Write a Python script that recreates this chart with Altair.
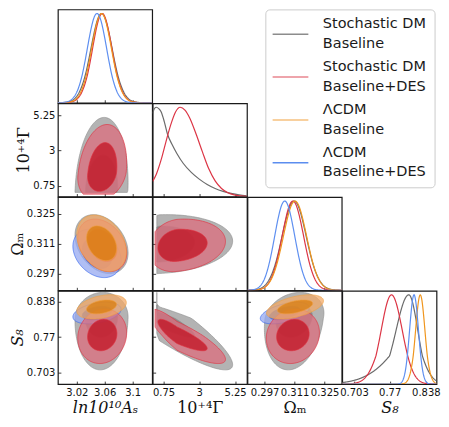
import numpy as np
import pandas as pd
import altair as alt

# ---------------- values ----------------
PARAM_TITLES = ["ln10¹⁰Aₛ", "10⁺⁴Γ", "Ωₘ", "S₈"]
TITLE_STYLES = ["italic", "normal", "normal", "italic"]
DOMAIN_AS = [2.993, 3.128]
DOMAIN_G = [0.07, 6.0]
DOMAIN_OM = [0.289, 0.333]
DOMAIN_S8 = [0.681, 0.858]
TICKS_AS = [3.02, 3.06, 3.1]
TICKS_G = [0.75, 3, 5.25]
TICKS_OM = [0.297, 0.311, 0.325]
TICKS_S8 = [0.703, 0.77, 0.838]

# series order: Stochastic DM Baseline, Stochastic DM Baseline+DES, LCDM Baseline, LCDM Baseline+DES
LEGEND_LINE1 = ["Stochastic DM", "Stochastic DM", "ΛCDM", "ΛCDM"]
LEGEND_LINE2 = ["Baseline", "Baseline+DES", "Baseline", "Baseline+DES"]
HAS_GAMMA = [True, True, False, False]

# centres and 68% / 95% half-extents (lower, upper) of each parameter
AS_CENTER = [3.0555, 3.0565, 3.0555, 3.049]
AS_W68 = [0.023, 0.021, 0.0215, 0.021]
AS_W95 = [0.038, 0.035, 0.0355, 0.0345]

G_CENTER = [0.5, 1.6]
G_W68_LO = [0.8, 1.2]
G_W68_HI = [2.2, 1.9]
G_W95_LO = [1.2, 1.8]
G_W95_HI = [4.6, 3.05]
G_PRIOR_CUT = [0.33, 0.22]

OM_CENTER = [0.3108, 0.3102, 0.3112, 0.3064]
OM_W68 = [0.0085, 0.0076, 0.0082, 0.0071]
OM_W95 = [0.0139, 0.0124, 0.0133, 0.0114]

S8_CENTER = [0.806, 0.7735, 0.8275, 0.8158]
S8_W68_LO = [0.036, 0.0292, 0.0132, 0.0126]
S8_W68_HI = [0.0254, 0.0304, 0.0132, 0.0126]
S8_W95_LO = [0.098, 0.0535, 0.023, 0.0205]
S8_W95_HI = [0.049, 0.050, 0.023, 0.0205]

# correlation coefficients of each parameter pair
CORR_AS_G = [0.1, 0.2]
CORR_AS_OM = [-0.3, -0.3, -0.3, -0.3]
CORR_AS_S8 = [0.05, 0.1, 0.35, 0.35]
CORR_G_OM = [0.1, 0.15]
CORR_G_S8 = [-0.9, -0.85]
CORR_OM_S8 = [0.2, 0.1, 0.5, 0.5]

# marginal of 10^4 Gamma
G_GRID_SB = [0.07, 0.2, 0.31, 0.45, 0.6, 0.8, 1.0, 1.3, 1.6, 2.0, 2.5, 3.0, 3.5, 4.0, 4.5, 5.0, 5.5, 6.0]
G_PDF_SB = [0.93, 0.99, 1.0, 0.985, 0.95, 0.84, 0.70, 0.58, 0.48, 0.37, 0.27, 0.195, 0.135, 0.09, 0.058, 0.035, 0.018, 0.008]
G_GRID_SD = [0.07, 0.3, 0.6, 0.9, 1.2, 1.5, 1.8, 2.1, 2.4, 2.8, 3.2, 3.6, 4.0, 4.4, 4.8, 5.2, 5.6, 6.0]
G_PDF_SD = [0.17, 0.25, 0.41, 0.61, 0.80, 0.945, 1.0, 0.968, 0.88, 0.70, 0.50, 0.31, 0.175, 0.09, 0.042, 0.018, 0.008, 0.003]

# ---------------- styles ----------------
LINE_COLORS = ["#6b6b6b", "#dc3545", "#f0961e", "#5e8ff0"]
LEGEND_COLORS = ["#8c8c8c", "#e8868f", "#f6c07e", "#5b8def"]
FILL95 = ["#999999", "#dc6e7d", "#f2aa68", "#96a8f0"]
FILL68 = ["#7f7f7f", "#c11121", "#db7e0b", "#2656e3"]
EDGE = ["#8f8f8f", "#e0303f", "#f0a040", "#2f62ee"]
FILL_OPACITY = 0.75
DRAW_ORDER_2D = [0, 3, 1, 2]
DRAW_ORDER_1D = [0, 1, 2, 3]

W, H = 94.5, 93.5
R68, R95 = 1.515, 2.448
LEG_STEP = 43.0  # pixels between legend entries

DOMAINS = [DOMAIN_AS, DOMAIN_G, DOMAIN_OM, DOMAIN_S8]
TICKS = [TICKS_AS, TICKS_G, TICKS_OM, TICKS_S8]


def pinfo(p, s):
    if p == 0:
        return AS_CENTER[s], AS_W68[s], AS_W68[s], AS_W95[s], AS_W95[s], None
    if p == 1:
        return G_CENTER[s], G_W68_LO[s], G_W68_HI[s], G_W95_LO[s], G_W95_HI[s], G_PRIOR_CUT[s]
    if p == 2:
        return OM_CENTER[s], OM_W68[s], OM_W68[s], OM_W95[s], OM_W95[s], None
    return S8_CENTER[s], S8_W68_LO[s], S8_W68_HI[s], S8_W95_LO[s], S8_W95_HI[s], None


CORR = {(0, 1): CORR_AS_G, (0, 2): CORR_AS_OM, (0, 3): CORR_AS_S8,
        (1, 2): CORR_G_OM, (1, 3): CORR_G_S8, (2, 3): CORR_OM_S8}


def contour(s, px, py, level):
    cx, xl68, xh68, xl95, xh95, xcut = pinfo(px, s)
    cy, yl68, yh68, yl95, yh95, ycut = pinfo(py, s)
    rho = CORR[(min(px, py), max(px, py))][s]
    t = np.linspace(0, 2 * np.pi, 161)
    zx = np.cos(t)
    zy = rho * np.cos(t) + np.sqrt(1 - rho ** 2) * np.sin(t)
    if level == 68:
        xl, xh, yl, yh = xl68, xh68, yl68, yh68
    else:
        xl, xh, yl, yh = xl95, xh95, yl95, yh95
    x = cx + np.where(zx < 0, zx * xl, zx * xh)
    y = cy + np.where(zy < 0, zy * yl, zy * yh)
    if xcut is not None:
        x = np.maximum(x, xcut)
    if ycut is not None:
        y = np.maximum(y, ycut)
    return pd.DataFrame({"x": x, "y": y, "k": np.arange(len(t))})


def marginal(s, p):
    lo, hi = DOMAINS[p]
    x = np.linspace(lo, hi, 241)
    c, l68, h68, l95, h95, _ = pinfo(p, s)
    d = x - c
    a = np.abs(d)
    w68 = np.where(d < 0, l68, h68)
    w95 = np.where(d < 0, l95, h95)
    z = np.where(a <= w68, R68 * a / w68, R68 + (a - w68) / (w95 - w68) * (R95 - R68))
    return pd.DataFrame({"x": x, "y": np.exp(-0.5 * z ** 2)})


def axis(p, show, orient):
    kw = dict(values=TICKS[p], format=".3~g", tickSize=3, offset=-3, domain=False, grid=False,
              tickColor="#111111", tickWidth=0.8, labels=show, labelFont="DejaVu Sans",
              labelFontSize=10, labelColor="#111111", labelFlush=False, labelOverlap=False,
              labelPadding=3)
    if show:
        kw.update(title=PARAM_TITLES[p], titleFont="DejaVu Serif", titleFontSize=16,
                  titleFontWeight="normal", titleFontStyle=TITLE_STYLES[p], titleColor="#111111",
                  titlePadding=2 if orient == "x" else 1)
    else:
        kw["title"] = None
    return alt.Axis(**kw)


def tri(i, j):
    layers = []
    for s in DRAW_ORDER_2D:
        if (i == 1 or j == 1) and not HAS_GAMMA[s]:
            continue
        for level, fill in ((95, FILL95[s]), (68, FILL68[s])):
            df = contour(s, j, i, level)
            layers.append(
                alt.Chart(df).mark_line(fill=fill, fillOpacity=FILL_OPACITY, stroke=EDGE[s],
                                        strokeWidth=0.7, strokeOpacity=0.9, clip=True)
                .encode(
                    x=alt.X("x:Q", scale=alt.Scale(domain=DOMAINS[j], nice=False, zero=False),
                            axis=axis(j, i == 3, "x")),
                    y=alt.Y("y:Q", scale=alt.Scale(domain=DOMAINS[i], nice=False, zero=False),
                            axis=axis(i, j == 0, "y")),
                    order="k:Q")
            )
    return alt.layer(*layers).properties(width=W, height=H)


def diag(i):
    layers = []
    for s in DRAW_ORDER_1D:
        if i == 1:
            if not HAS_GAMMA[s]:
                continue
            df = pd.DataFrame({"x": [G_GRID_SB, G_GRID_SD][s], "y": [G_PDF_SB, G_PDF_SD][s]})
            interp = "monotone"
        else:
            df = marginal(s, i)
            interp = "linear"
        layers.append(
            alt.Chart(df).mark_line(color=LINE_COLORS[s], strokeWidth=1.2, clip=True,
                                    interpolate=interp)
            .encode(
                x=alt.X("x:Q", scale=alt.Scale(domain=DOMAINS[i], nice=False, zero=False),
                        axis=axis(i, i == 3, "x")),
                y=alt.Y("y:Q", scale=alt.Scale(domain=[0, 1.045], nice=False), axis=None))
        )
    return alt.layer(*layers).properties(width=W, height=H)


def blank():
    return alt.Chart(pd.DataFrame({"a": [0.0]})).mark_point(opacity=0).encode(
        x=alt.X("a:Q", axis=None), y=alt.Y("a:Q", axis=None)
    ).properties(width=W, height=H, view=alt.ViewBackground(strokeOpacity=0))


def legend():
    # legend placed in the empty upper-right cell; x in units of one panel width,
    # y in units of one legend entry
    n = len(LEGEND_LINE1)
    top = -0.575
    xs = alt.Scale(domain=[0, 1], nice=False, zero=False)
    ys = alt.Scale(domain=[top, top + H / LEG_STEP], nice=False, zero=False, reverse=True)
    box = alt.Chart(pd.DataFrame({"x": [0.195], "x2": [1.99], "y": [-0.565], "y2": [3.582]})).mark_rect(
        fill="white", stroke="#cccccc", strokeWidth=1, cornerRadius=4
    ).encode(x=alt.X("x:Q", scale=xs, axis=None), x2="x2:Q",
             y=alt.Y("y:Q", scale=ys, axis=None), y2="y2:Q")
    lines = pd.DataFrame({"idx": list(range(n)), "x": [0.267] * n, "x2": [0.646] * n,
                          "c": LEGEND_COLORS})
    rules = alt.Chart(lines).mark_rule(strokeWidth=1.5).encode(
        x=alt.X("x:Q", scale=xs, axis=None), x2="x2:Q",
        y=alt.Y("idx:Q", scale=ys, axis=None),
        color=alt.Color("c:N", scale=None))
    rows = []
    for k in range(n):
        rows.append({"idx": k - 0.2247, "t": LEGEND_LINE1[k], "tx": 0.80})
        rows.append({"idx": k + 0.2247, "t": LEGEND_LINE2[k], "tx": 0.80})
    texts = alt.Chart(pd.DataFrame(rows)).mark_text(
        align="left", baseline="middle", font="DejaVu Sans", fontSize=14.5, color="#1a1a1a"
    ).encode(x=alt.X("tx:Q", scale=xs, axis=None), y=alt.Y("idx:Q", scale=ys, axis=None), text="t:N")
    return alt.layer(box, rules, texts).properties(
        width=W, height=H, view=alt.ViewBackground(strokeOpacity=0))


cells = [
    diag(0), blank(), legend(), blank(),
    tri(1, 0), diag(1), blank(), blank(),
    tri(2, 0), tri(2, 1), diag(2), blank(),
    tri(3, 0), tri(3, 1), tri(3, 2), diag(3),
]

chart = alt.concat(*cells, columns=4, spacing=0, bounds="flush").properties(
    padding={"left": 0, "top": 0, "right": 0, "bottom": 0}, background="white"
).configure_view(stroke="#1a1a1a", strokeWidth=1.2)

chart.save("out.html", embed_options={"renderer": "svg", "actions": False})
